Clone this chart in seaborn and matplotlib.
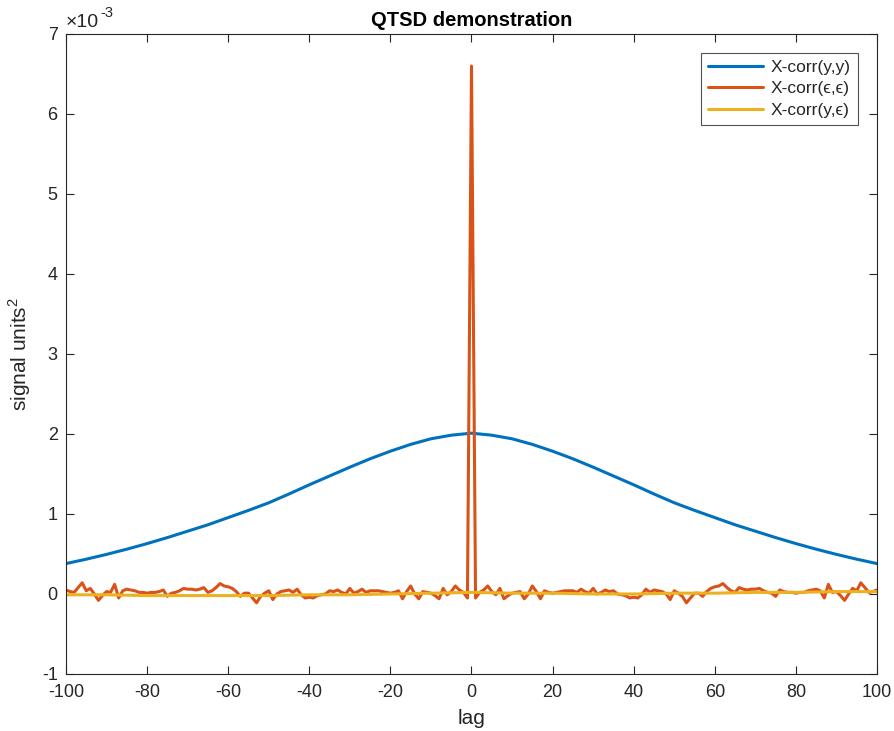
import numpy as np
import pandas as pd
import matplotlib
matplotlib.use("Agg")
import matplotlib.pyplot as plt
import seaborn as sns
from matplotlib.ticker import FuncFormatter

# ---- data (values in units of 1e-3) ----
# X-corr(y,y): read every 5 lags, lags -100..0 (symmetric)
yy_lags_half = list(range(-100, 1, 5))
yy_half = [0.38, 0.435, 0.495, 0.56, 0.63, 0.705, 0.785, 0.865, 0.955, 1.045,
           1.14, 1.25, 1.365, 1.475, 1.585, 1.69, 1.785, 1.87, 1.94, 1.985, 2.01]

# X-corr(eps,eps): lags -100..-1 (symmetric about lag 0), peak at 0
ee_half = [0.05, 0.03, 0.02, 0.08, 0.14, 0.04, 0.07, 0.00, -0.08, -0.02,
           0.03, 0.02, 0.12, -0.05, 0.04, 0.06, 0.05, 0.04, 0.02, 0.02,
           0.01, 0.02, 0.02, 0.03, 0.05, -0.03, 0.01, 0.02, 0.04, 0.07,
           0.06, 0.06, 0.05, 0.06, 0.08, 0.02, 0.04, 0.08, 0.13, 0.10,
           0.09, 0.07, 0.03, -0.03, 0.01, 0.01, -0.05, -0.11, -0.03, 0.01,
           0.04, -0.07, 0.00, 0.03, 0.04, 0.05, 0.02, 0.06, -0.01, -0.05,
           -0.04, -0.05, -0.02, -0.01, 0.00, 0.04, 0.03, 0.05, 0.02, 0.00,
           0.07, 0.01, 0.03, 0.06, 0.02, 0.04, 0.04, 0.04, 0.03, 0.02,
           0.01, 0.02, 0.04, -0.06, 0.03, 0.10, 0.00, -0.06, 0.03, 0.02,
           0.01, -0.02, -0.06, 0.07, -0.01, 0.03, 0.10, 0.05, 0.02, -0.05]
ee_peak = 6.60

# X-corr(y,eps): read every 10 lags
ye_lags = list(range(-100, 101, 10))
ye_vals = [-0.01, -0.01, -0.02, -0.02, -0.02, -0.02, -0.01, -0.01, 0.00, 0.01,
           0.02, 0.01, 0.01, 0.00, 0.00, 0.01, 0.01, 0.02, 0.02, 0.03, 0.03]

labels = ["X-corr(y,y)", "X-corr(\u03f5,\u03f5)", "X-corr(y,\u03f5)"]
colors = ["#0072BD", "#D95319", "#EDB120"]

yy_lags = yy_lags_half + [-l for l in yy_lags_half[-2::-1]]
yy_vals = yy_half + yy_half[-2::-1]
ee_lags = list(range(-100, 101))
ee_vals = ee_half + [ee_peak] + ee_half[::-1]

df = pd.concat([
    pd.DataFrame({"lag": yy_lags, "v": np.array(yy_vals) * 1e-3, "s": labels[0]}),
    pd.DataFrame({"lag": ee_lags, "v": np.array(ee_vals) * 1e-3, "s": labels[1]}),
    pd.DataFrame({"lag": ye_lags, "v": np.array(ye_vals) * 1e-3, "s": labels[2]}),
])

sns.set_theme(style="white")
plt.rcParams["font.family"] = ["Liberation Sans", "DejaVu Sans"]
plt.rcParams["mathtext.fontset"] = "custom"
plt.rcParams["mathtext.rm"] = "Liberation Sans"
plt.rcParams["axes.unicode_minus"] = False

fig = plt.figure(figsize=(8.94, 7.31), dpi=100)
ax = fig.add_axes([0.0738, 0.078, 0.9072, 0.8755])

sns.lineplot(data=df, x="lag", y="v", hue="s", palette=colors, hue_order=labels,
             linewidth=2.2, ax=ax, sort=False, estimator=None)

ax.set_xlim(-100, 100)
ax.set_ylim(-1e-3, 7e-3)
ax.set_xticks(np.arange(-100, 101, 20))
ax.set_yticks(np.arange(-1e-3, 7.01e-3, 1e-3))
ax.yaxis.set_major_formatter(FuncFormatter(lambda v, p: f"{v*1e3:.0f}"))
ax.tick_params(direction="in", length=6, width=0.8, colors="#262626",
               labelsize=13, top=True, right=True, bottom=True, left=True,
               labelcolor="#262626")
ax.tick_params(axis="x", pad=7)
ax.tick_params(axis="y", pad=6)
for sp in ax.spines.values():
    sp.set_color("#262626")
    sp.set_linewidth(0.8)

ax.text(0.0, 1.004, "\u00d710", transform=ax.transAxes,
        fontsize=14, color="#262626", ha="left", va="bottom")
ax.text(0.043, 1.022, "-3", transform=ax.transAxes,
        fontsize=10.5, color="#262626", ha="left", va="bottom")

ax.set_xlabel("lag", fontsize=15, color="#262626", labelpad=6)
ax.set_ylabel(r"signal units$^{2}$", fontsize=15, color="#262626", labelpad=6)
ax.set_title("QTSD demonstration", fontsize=14.5, fontweight="bold", color="black", pad=6)

leg = ax.legend(loc="upper right", fontsize=12.5, frameon=True, fancybox=False,
                edgecolor="#262626", handlelength=3.2, borderaxespad=1.1,
                labelspacing=0.35, handletextpad=0.45, borderpad=0.4)
leg.get_frame().set_linewidth(0.8)

fig.savefig("out.png", dpi=100)
